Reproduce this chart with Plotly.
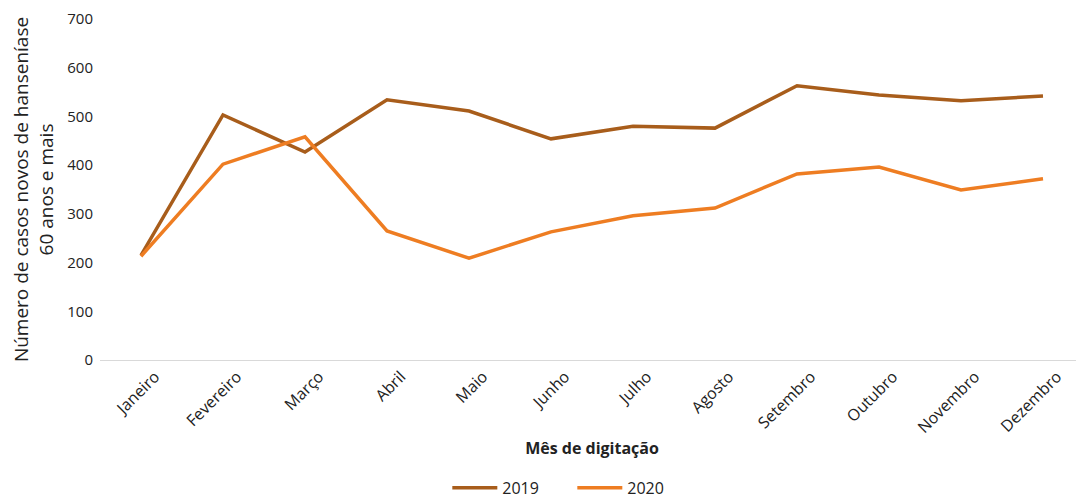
import plotly.graph_objects as go

meses = ["Janeiro", "Fevereiro", "Março", "Abril", "Maio", "Junho",
         "Julho", "Agosto", "Setembro", "Outubro", "Novembro", "Dezembro"]
casos_2019 = [215, 503, 427, 534, 511, 454, 480, 476, 563, 544, 532, 542]
casos_2020 = [213, 402, 458, 265, 209, 263, 296, 312, 382, 396, 349, 372]

fig = go.Figure()
fig.add_trace(go.Scatter(x=meses, y=casos_2019, name="2019", mode="lines",
                         line=dict(color="#A85D1B", width=3.5)))
fig.add_trace(go.Scatter(x=meses, y=casos_2020, name="2020", mode="lines",
                         line=dict(color="#EE7D22", width=3.5)))

# page body keeps its default 8px margin, so the figure is sized to fit
fig.update_layout(
    width=1076, height=490,
    margin=dict(l=92, r=0, t=11, b=138, autoexpand=False),
    plot_bgcolor="white", paper_bgcolor="white",
    font=dict(family="Open Sans", size=15, color="#222"),
    legend=dict(orientation="h", x=0.48, xanchor="center", y=-0.325, yanchor="top",
                font=dict(size=16), itemwidth=45,
                entrywidth=65, entrywidthmode="pixels"),
    xaxis=dict(
        range=[-0.5, 11.5], automargin=False,
        tickangle=-45, showgrid=False, showline=True, linecolor="#d9d9d9",
        ticks="", tickfont=dict(size=16), ticklabelshift=14,
        title=dict(text="<b>Mês de digitação</b>", font=dict(size=16), standoff=6),
    ),
    yaxis=dict(
        range=[0, 700], dtick=100, showgrid=False, zeroline=False, ticks="",
        automargin=False, ticklabelstandoff=6,
        title=dict(text="Número de casos novos de hanseníase<br>60 anos e mais",
                   font=dict(size=19), standoff=20),
    ),
)

fig.write_html("out.html")
